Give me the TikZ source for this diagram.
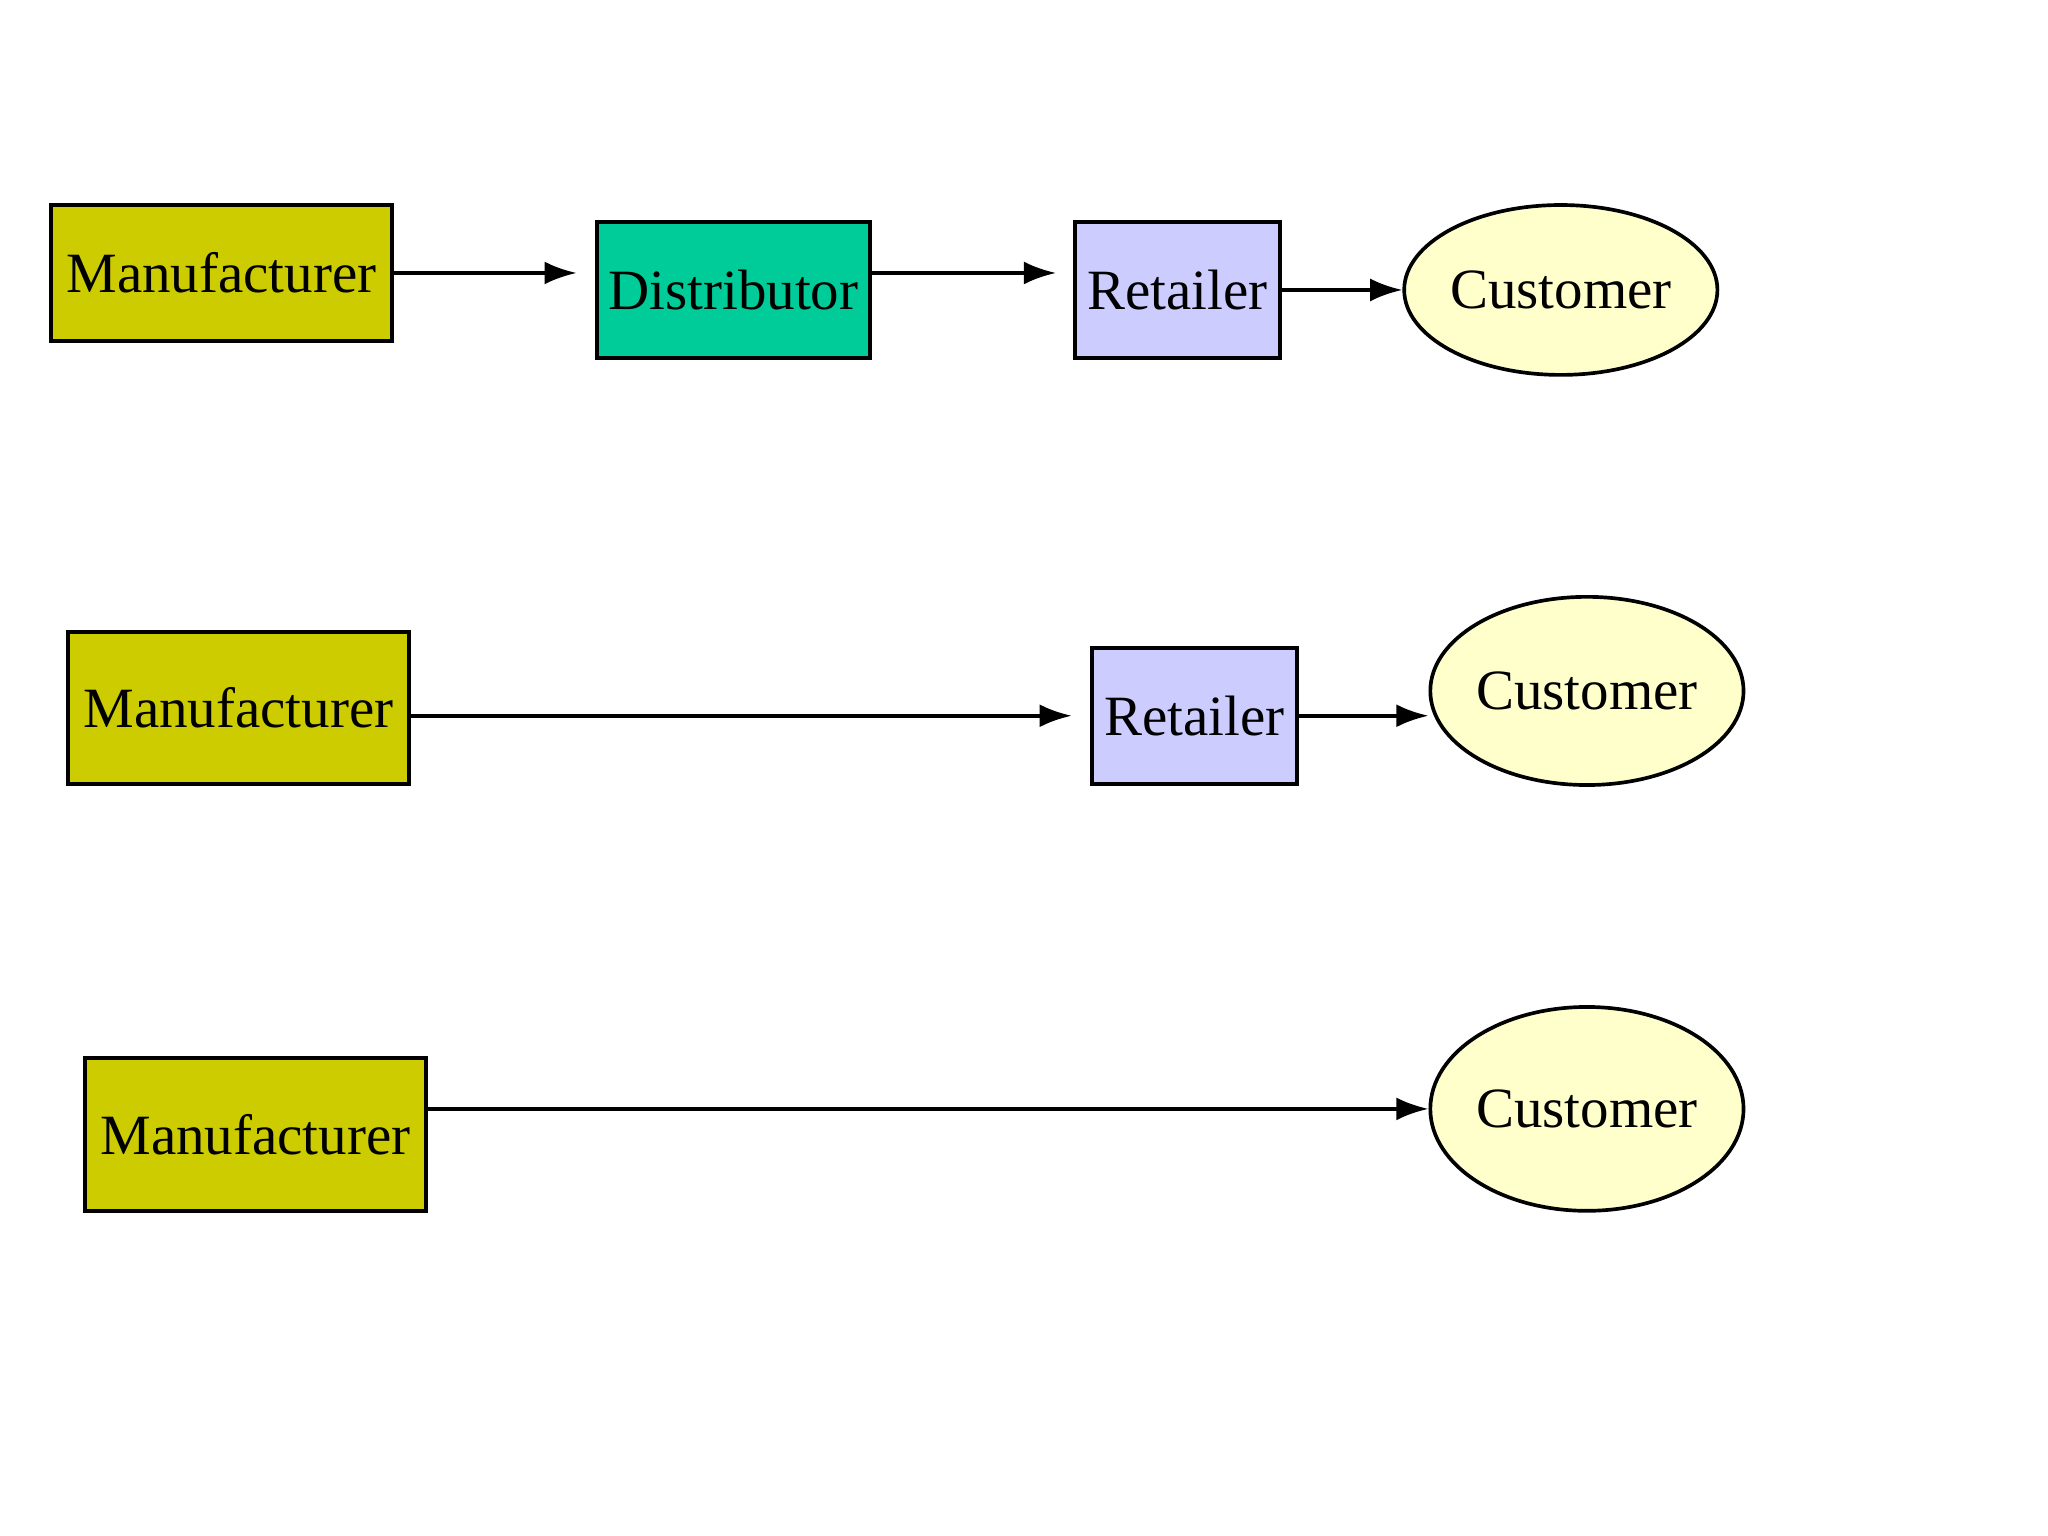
\documentclass[tikz,border=0pt]{standalone}
\usepackage{fontspec}
\setmainfont{Liberation Serif}
\usetikzlibrary{shapes.geometric,arrows.meta}
\definecolor{mfr}{RGB}{204,204,0}
\definecolor{dst}{RGB}{0,204,153}
\definecolor{rtl}{RGB}{204,204,255}
\definecolor{cst}{RGB}{255,255,204}
\tikzset{
  box/.style={draw,thick,inner sep=0pt,font=\fontsize{12.4}{14}\selectfont},
  client/.style={box,ellipse},
  flow/.style={draw,thick,-{Latex[length=7pt,width=5pt]}},
}

\begin{document}
\begin{tikzpicture}[x=0.01cm,y=-0.01cm]
  \useasboundingbox (0,0) rectangle (1568,1176);
  % direct through two middlemen
  \node[box,fill=mfr,minimum width=2.61cm,minimum height=1.04cm] (m1) at (169.5,209) {Manufacturer};
  \node[box,fill=dst,minimum width=2.09cm,minimum height=1.04cm] (d1) at (561.5,222) {Distributor};
  \node[box,fill=rtl,minimum width=1.57cm,minimum height=1.04cm] (r1) at (901.5,222) {Retailer};
  \node[client,fill=cst,minimum width=1.96cm,minimum height=1.30cm] (c1) at (1195,222) {Customer};
  \draw[flow,shorten >=0.14cm] (m1.east) -- (m1.east -| d1.west);
  \draw[flow,shorten >=0.13cm] (d1.east |- m1.east) -- (m1.east -| r1.west);
  \draw[flow] (r1) -- (c1);
  % one middleman
  \node[box,fill=mfr,minimum width=2.61cm,minimum height=1.16cm] (m2) at (182.5,542) {Manufacturer};
  \node[box,fill=rtl,minimum width=1.57cm,minimum height=1.04cm] (r2) at (914.5,548) {Retailer};
  \node[client,fill=cst,minimum width=1.82cm,minimum height=1.44cm] (c2) at (1215,529) {Customer};
  \draw[flow,shorten >=0.14cm] (m2.east |- r2) -- (r2.west);
  \draw[flow] (r2.east) -- (r2.east -| c2.west);
  % no middleman
  \node[box,fill=mfr,minimum width=2.61cm,minimum height=1.17cm] (m3) at (195.5,868.5) {Manufacturer};
  \node[client,fill=cst,minimum width=1.82cm,minimum height=1.56cm] (c3) at (1215,849) {Customer};
  \draw[flow] (m3.east |- c3) -- (c3.west);
\end{tikzpicture}
\end{document}
